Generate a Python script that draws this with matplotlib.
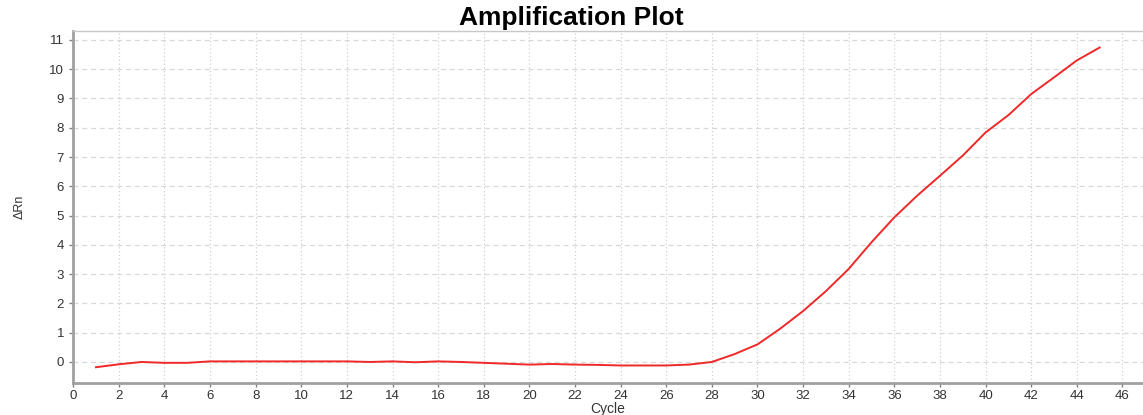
import matplotlib
matplotlib.use("Agg")
import matplotlib.pyplot as plt

# cycle numbers and delta Rn values
cycles = list(range(1, 46))
delta_rn = [-0.18, -0.08, 0.0, -0.03, -0.03, 0.02, 0.02, 0.02, 0.02, 0.02,
            0.02, 0.02, 0.0, 0.02, -0.01, 0.02, 0.0, -0.03, -0.06, -0.09,
            -0.07, -0.09, -0.1, -0.12, -0.12, -0.12, -0.09, 0.0, 0.27, 0.6,
            1.14, 1.74, 2.42, 3.18, 4.09, 4.94, 5.68, 6.36, 7.05, 7.84,
            8.43, 9.15, 9.72, 10.3, 10.74]

x_ticks = list(range(0, 47, 2))
y_ticks = list(range(0, 12))

plt.rcParams['font.family'] = ['Liberation Sans', 'DejaVu Sans']

fig = plt.figure(figsize=(11.43, 4.15), dpi=100)
ax = fig.add_axes([0.064, 0.077, 0.936, 0.848])

ax.plot(cycles, delta_rn, color='#f02828', linewidth=1.4)

ax.set_xlim(0, 46.9)
ax.set_ylim(-0.72, 11.3)
ax.set_xticks(x_ticks)
ax.set_yticks(y_ticks)

# grid: dotted verticals, dashed horizontals
ax.grid(axis='x', color='#d0d0d0', linestyle=(0, (1, 2)), linewidth=0.9)
ax.grid(axis='y', color='#d8d8d8', linestyle=(0, (4, 3)), linewidth=0.9)

for side in ['left', 'bottom']:
    ax.spines[side].set_color('#a0a0a0')
    ax.spines[side].set_linewidth(2)
ax.spines['top'].set_color('#c8c8c8')
ax.spines['top'].set_linewidth(1)
ax.spines['right'].set_visible(False)

ax.tick_params(axis='both', colors='#808080', labelcolor='#333333',
               labelsize=9.5, length=3, width=1)
ax.tick_params(axis='x', pad=2)

ax.set_xlabel('Cycle', fontsize=10, color='#333333', labelpad=0)
ax.set_ylabel('ΔRn', fontsize=9, color='#333333', labelpad=17)

fig.text(0.5, 0.985, 'Amplification Plot', ha='center', va='top',
         fontsize=19, fontweight='bold', color='black')

fig.savefig('out.png', dpi=100)
